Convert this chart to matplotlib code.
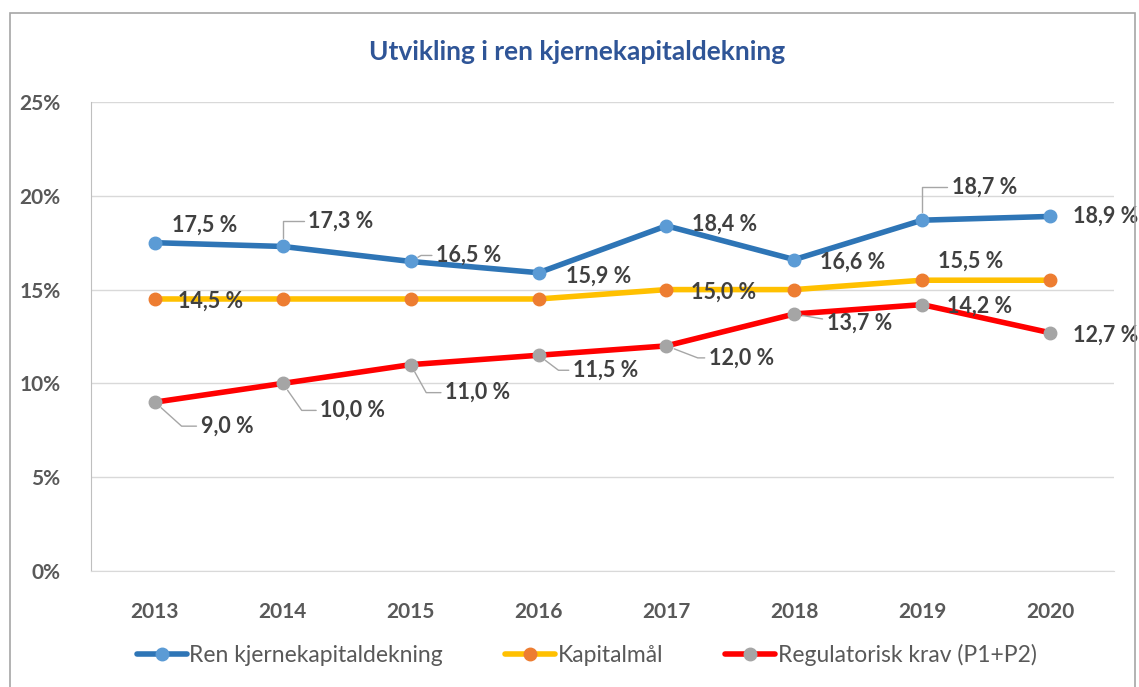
import matplotlib
matplotlib.use('Agg')
import matplotlib.pyplot as plt
from matplotlib.patches import Rectangle

plt.rcParams['font.family'] = ['Lato', 'DejaVu Sans']

years = ['2013', '2014', '2015', '2016', '2017', '2018', '2019', '2020']
ren_kjernekapital = [17.5, 17.3, 16.5, 15.9, 18.4, 16.6, 18.7, 18.9]
kapitalmaal = [14.5, 14.5, 14.5, 14.5, 15.0, 15.0, 15.5, 15.5]
regulatorisk_krav = [9.0, 10.0, 11.0, 11.5, 12.0, 13.7, 14.2, 12.7]
y_ticks = [0, 5, 10, 15, 20, 25]

series_names = ['Ren kjernekapitaldekning', 'Kapitalmål', 'Regulatorisk krav (P1+P2)']

# label placement: index -> (dx px, dy px, leader angle or None)
label_pos = [
    {0: (50, 17, None), 1: (58, 25, 90), 2: (58, 6, 30), 3: (60, -3, None),
     4: (58, 2, None), 5: (58, -3, None), 6: (62, 33, 90), 7: (56, 0, None)},
    {0: (56, -2, None), 4: (57, -3, None), 6: (48, 19, None)},
    {0: (72, -24, -42), 1: (70, -27, -55), 2: (67, -28, -61), 3: (67, -15, -37),
     4: (75, -12, -21), 5: (65, -9, -10), 6: (57, -2, None), 7: (56, -2, None)},
]

line_colors = ['#2E75B6', '#FFC000', '#FF0000']
marker_colors = ['#5B9BD5', '#ED7D31', '#A5A5A5']
grey_text = '#595959'
label_text = '#404040'

fig = plt.figure(figsize=(11.39, 6.87), dpi=100)
ax = fig.add_axes([91 / 1139, 1 - 571 / 687, (1114 - 91) / 1139, (571 - 102) / 687])

fig.patches.append(Rectangle((10 / 1139, -0.05), 1125 / 1139, 1.05 - 13 / 687,
                             transform=fig.transFigure, fill=False,
                             edgecolor='#A6A6A6', lw=1.2))

x = list(range(len(years)))
all_series = [ren_kjernekapital, kapitalmaal, regulatorisk_krav]
for vals, name, lc, mc, pos in zip(all_series, series_names, line_colors,
                                   marker_colors, label_pos):
    ax.plot(x, vals, color=lc, lw=4, marker='o', markersize=9,
            markerfacecolor=mc, markeredgecolor=mc, label=name,
            solid_capstyle='round', zorder=3)
    for i, (dx, dy, ang) in pos.items():
        txt = f'{vals[i]:.1f} %'.replace('.', ',')
        kw = {}
        if ang is not None:
            kw['arrowprops'] = dict(
                arrowstyle='-', color='#A6A6A6', lw=1, relpos=(0, 0.5),
                shrinkA=1, shrinkB=6,
                connectionstyle=f'angle,angleA=0,angleB={ang},rad=0')
        ax.annotate(txt, (i, vals[i]), xytext=(dx, dy),
                    textcoords='offset pixels', ha='center', va='center',
                    fontsize=15.5, fontweight='bold', color=label_text,
                    zorder=5, **kw)

ax.set_xlim(-0.5, len(years) - 0.5)
ax.set_ylim(0, 25)
ax.set_xticks(x)
ax.set_xticklabels(years)
ax.set_yticks(y_ticks)
ax.set_yticklabels([f'{v}%' for v in y_ticks])
ax.tick_params(length=0, labelsize=15, labelcolor=grey_text)
ax.tick_params(axis='y', pad=22)
ax.tick_params(axis='x', pad=22)
for lab in ax.get_xticklabels() + ax.get_yticklabels():
    lab.set_fontweight('bold')
ax.grid(axis='y', color='#D9D9D9', lw=1)
ax.set_axisbelow(True)
for side in ['top', 'right']:
    ax.spines[side].set_visible(False)
ax.spines['left'].set_color('#BFBFBF')
ax.spines['bottom'].set_color('#D9D9D9')

fig.text(577 / 1139, 1 - 52 / 687, 'Utvikling i ren kjernekapitaldekning',
         ha='center', va='center', fontsize=19, fontweight='bold',
         color='#2F5597')

fig.legend(loc='center', bbox_to_anchor=(0.515, 1 - 655 / 687), ncol=3,
           frameon=False, fontsize=16.5, labelcolor=grey_text,
           handlelength=2.2, handletextpad=0.1, columnspacing=2.7)

fig.savefig('out.png', dpi=100)
